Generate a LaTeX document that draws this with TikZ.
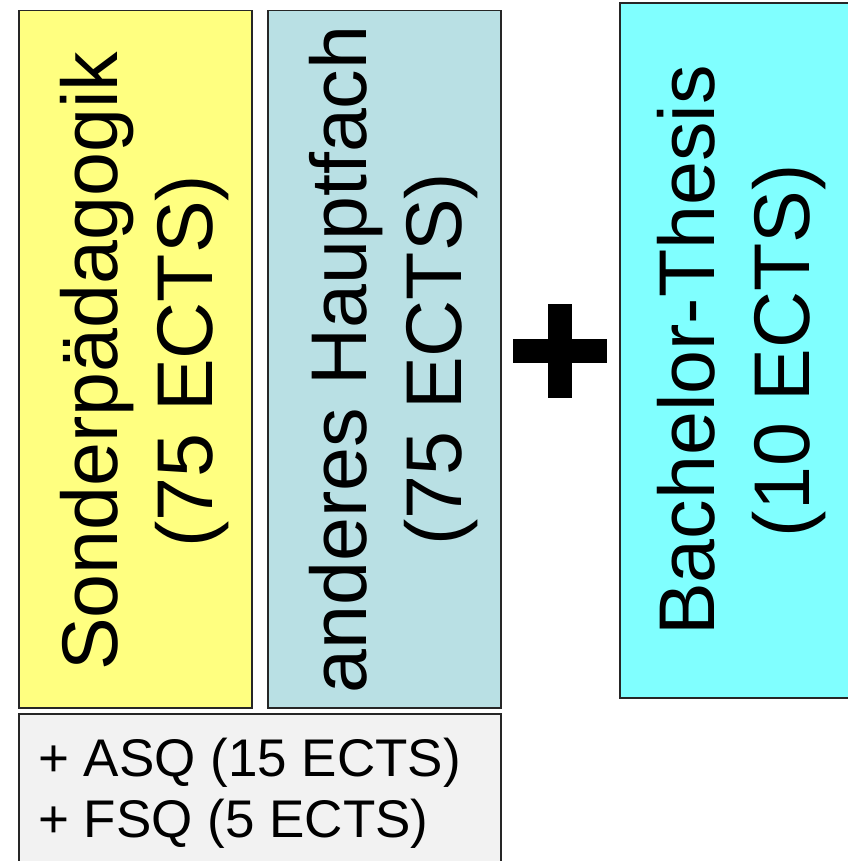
\documentclass[tikz,border=0pt]{standalone}
\usepackage{fontspec}
\setmainfont{Liberation Sans}
\usetikzlibrary{positioning}

\definecolor{sonderyellow}{HTML}{FFFF80}
\definecolor{hauptblue}{HTML}{B9E0E4}
\definecolor{thesiscyan}{HTML}{80FFFF}
\definecolor{extragray}{HTML}{F2F2F2}

\begin{document}
\begin{tikzpicture}[
    x=1pt, y=-1pt,
    module box/.style={draw=black!85, line width=1.5pt, anchor=north west, inner sep=0pt},
    module text/.style={rotate=90, align=center, inner sep=0pt, font=\fontsize{79}{95}\selectfont},
    extra text/.style={align=left, inner sep=0pt, anchor=north west, font=\fontsize{53}{61}\selectfont}
]
    \useasboundingbox (0,0) rectangle (847,861);

    % Major and minor subject
    \node[module box, fill=sonderyellow, minimum width=233pt, minimum height=697pt] (sonder) at (18,10) {};
    \node[module box, fill=hauptblue, minimum width=233pt, minimum height=697pt] (haupt) at (267,10) {};
    \node[module text] (sonder_text) at ([xshift=9pt, yshift=-2pt]sonder.center) {Sonderpädagogik\\(75 ECTS)};
    \node[module text] (haupt_text) at ([xshift=9pt]haupt.center) {anderes Hauptfach\\(75 ECTS)};

    % ASQ / FSQ below
    \node[module box, fill=extragray, minimum width=482pt, minimum height=160pt] (extra) at (18,713) {};
    \node[extra text] (extra_text) at (38,738) {+ ASQ (15 ECTS)\\+ FSQ (5 ECTS)};

    % Plus sign
    \fill[black] (548,304) rectangle (572,398);
    \fill[black] (513,339) rectangle (607,363);

    % Thesis
    \node[module box, fill=thesiscyan, line width=2pt, minimum width=248pt, minimum height=695pt] (thesis) at (619,2) {};
    \node[module text] (thesis_text) at ([xshift=-2pt]thesis.center) {Bachelor-Thesis\\(10 ECTS)};
\end{tikzpicture}
\end{document}
